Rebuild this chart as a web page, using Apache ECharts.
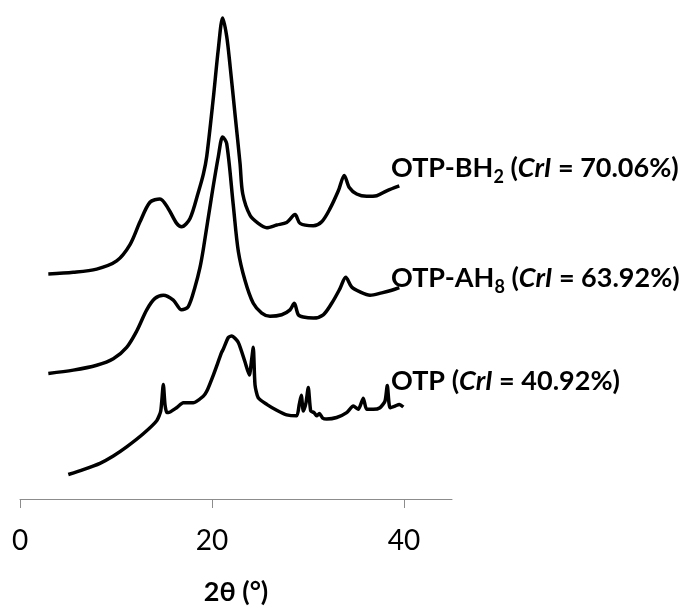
<!DOCTYPE html>
<html>
<head>
<meta charset="utf-8">
<script src="https://cdn.jsdelivr.net/npm/echarts@6/dist/echarts.min.js"></script>
<style>
  html, body { margin: 0; padding: 0; background: #ffffff; }
  #chart { width: 686px; height: 611px; }
</style>
</head>
<body>
<div id="chart"></div>
<script>
// 2θ (degrees) and intensity (arbitrary units, vertically offset) for each pattern
const bh2Theta = [2.95, 5.55, 7.99, 10.07, 11.46, 12.5, 13.54, 14.58, 15.45, 16.32, 16.84, 17.71, 18.57, 19.1, 19.45, 20.14, 20.66, 21.11, 21.53, 21.88, 22.4, 22.92, 23.2, 23.96, 24.82, 25.7, 26.74, 27.78, 28.65, 29.17, 30.55, 31.43, 32.29, 33.16, 33.78, 34.3, 35.07, 36.11, 37.16, 38.2, 39.51];
const bh2Int   = [230, 231.7, 235, 243.3, 260, 283.3, 303.3, 306.7, 296.7, 281.7, 278.3, 286.7, 313.3, 332, 350, 410, 460, 491.7, 473, 443, 393, 343, 312, 290, 281.7, 277.3, 280, 282.7, 290.7, 281.7, 279.3, 283.3, 296.7, 315, 330.7, 318.3, 311.7, 309.3, 310, 315, 320];

const ah8Theta = [2.95, 5.55, 7.99, 9.72, 11.11, 12.16, 13.2, 14.06, 14.93, 15.97, 16.84, 17.53, 18.23, 18.75, 19.09, 19.97, 20.66, 21.11, 21.53, 22.22, 22.74, 23.44, 24.3, 25.18, 26.04, 27.26, 28.13, 28.57, 28.99, 29.51, 30.55, 31.59, 32.47, 33.33, 33.93, 34.55, 35.42, 36.46, 37.68, 38.72, 39.51];
const ah8Int   = [128.3, 131.7, 136.7, 143.3, 155, 171.7, 193.3, 205, 208.3, 203.3, 193.3, 196.7, 216.7, 236.7, 255, 310, 350, 370, 363.3, 300, 253.3, 223.3, 200, 190, 186.7, 188.3, 193.3, 200, 188.3, 186, 185, 188.3, 200, 215, 226.7, 216.7, 211.7, 208.3, 210.7, 213.3, 216];

const otpTheta = [5.03, 6.59, 8.33, 9.72, 11.11, 12.84, 14.24, 14.66, 14.93, 15.1, 15.28, 15.45, 16.32, 17.01, 18.05, 19.09, 19.45, 20.14, 21.01, 21.18, 21.7, 22.05, 22.74, 23.44, 23.89, 24.14, 24.3, 24.48, 24.82, 25.7, 26.74, 27.78, 28.82, 29.09, 29.3, 29.51, 29.79, 30.03, 30.28, 30.63, 30.9, 31.18, 31.53, 31.95, 32.99, 34.03, 34.72, 35.24, 35.76, 36.11, 36.8, 37.5, 38.02, 38.26, 38.54, 39.06, 39.51, 39.93];
const otpInt   = [25, 30, 36.5, 44, 53.3, 66.7, 80, 90, 117, 96.7, 88.3, 88.3, 93.3, 98.3, 98.3, 105, 110, 126.7, 150, 153.3, 165, 166.7, 160, 140, 126.7, 143.3, 155, 116.7, 103.3, 96.7, 90.7, 86, 85, 96.7, 106, 90, 98.3, 114, 90, 88.3, 85, 87.3, 82.7, 81.7, 83.3, 88.3, 95, 91.7, 103, 91.7, 91.7, 93.3, 100, 116, 93.3, 95, 96.7, 94];

const xTicks = [0, 20, 40];
const seriesNames = ['OTP-BH2', 'OTP-AH8', 'OTP'];
const crI = ['70.06%', '63.92%', '40.92%'];

function pairs(xs, ys) { return xs.map((x, i) => [x, ys[i]]); }

const chart = echarts.init(document.getElementById('chart'), null, { renderer: 'canvas' });

const font = 'Lato';
const lineStyle = { color: '#000000', width: 3.5 };

function labelRich() {
  return {
    b: { fontFamily: font, fontSize: 27, fontWeight: 'bold', color: '#000', lineHeight: 36 },
    i: { fontFamily: font, fontSize: 27, fontWeight: 'bold', fontStyle: 'italic', color: '#000', lineHeight: 36 },
    s: { fontFamily: font, fontSize: 18, fontWeight: 'bold', color: '#000', lineHeight: 18, verticalAlign: 'bottom' }
  };
}

chart.setOption({
  animation: false,
  backgroundColor: '#ffffff',
  grid: { left: 20, right: 234, top: 0, bottom: 101, containLabel: false },
  xAxis: {
    type: 'value',
    min: 0,
    max: 45,
    interval: 20,
    name: '2θ (°)',
    nameLocation: 'middle',
    nameGap: 80,
    nameTextStyle: { fontFamily: font, fontSize: 27, fontWeight: 'bold', color: '#000' },
    axisLine: { show: true, lineStyle: { color: '#8c8c8c', width: 1 } },
    axisTick: { show: true, length: 9, lineStyle: { color: '#8c8c8c' },
      customValues: xTicks },
    axisLabel: { fontFamily: font, fontSize: 28, color: '#000', margin: 28,
      customValues: xTicks },
    splitLine: { show: false }
  },
  yAxis: { type: 'value', min: 0, max: 510, show: false, splitLine: { show: false } },
  series: [
    { name: seriesNames[0], type: 'line', data: pairs(bh2Theta, bh2Int), showSymbol: false, smooth: 0.3, lineStyle },
    { name: seriesNames[1], type: 'line', data: pairs(ah8Theta, ah8Int), showSymbol: false, smooth: 0.3, lineStyle },
    { name: seriesNames[2], type: 'line', data: pairs(otpTheta, otpInt), showSymbol: false, smooth: 0.2, lineStyle }
  ],
  graphic: [
    { type: 'text', left: 391, top: 155, style: { text: '{b|OTP-BH}{s|2}{b| (}{i|CrI}{b| = ' + crI[0] + ')}', rich: labelRich() } },
    { type: 'text', left: 391, top: 265, style: { text: '{b|OTP-AH}{s|8}{b| (}{i|CrI}{b| = ' + crI[1] + ')}', rich: labelRich() } },
    { type: 'text', left: 391, top: 368, style: { text: '{b|OTP (}{i|CrI}{b| = ' + crI[2] + ')}', rich: labelRich() } }
  ]
});
</script>
</body>
</html>
